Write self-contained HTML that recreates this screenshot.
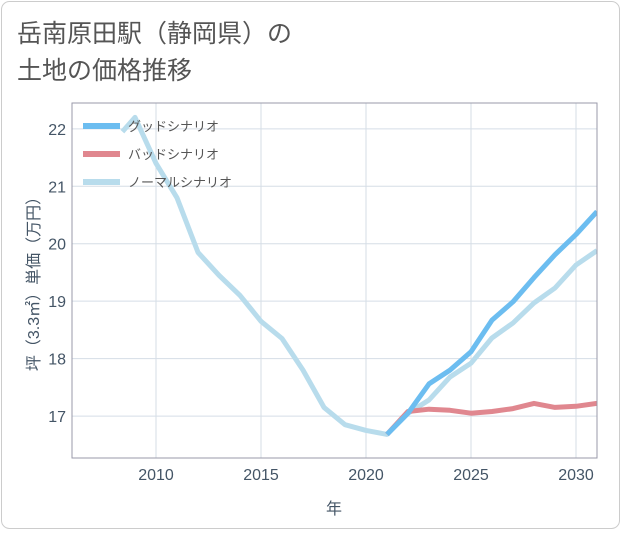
<!DOCTYPE html>
<html><head><meta charset="utf-8"><style>
body{margin:0;background:#fff;font-family:"Liberation Sans","Noto Sans CJK JP",sans-serif;}
#wrap{position:relative;width:621px;height:530px;}
</style></head><body>
<div id="wrap">
<svg id="chart" width="621" height="530" xmlns="http://www.w3.org/2000/svg">
<rect x="1.5" y="1.5" width="618" height="527" rx="8" fill="#fff" stroke="#ccc"/>
<text x="17" y="42" font-size="25" fill="#555">岳南原田駅（静岡県）の</text>
<text x="17" y="79" font-size="25" fill="#555">土地の価格推移</text>
<g id="grid"></g>
<g id="series"></g>
<rect x="72" y="103" width="525" height="355" fill="none" stroke="#99a"/>
<g id="legend"></g>
<text x="334" y="514" font-size="16" fill="#456" text-anchor="middle">年</text>
<text transform="translate(39,280) rotate(-90)" font-size="16" fill="#456" text-anchor="middle">坪（3.3㎡）単価（万円）</text>
</svg>
</div>
<script>
const xTicks=[2010,2015,2020,2025,2030];
const yTicks=[17,18,19,20,21,22];
const normalYears=[2008.4,2009,2010,2011,2012,2013,2014,2015,2016,2017,2018,2019,2020,2021,2022,2023,2024,2025,2026,2027,2028,2029,2030,2031];
const normalValues=[21.95,22.2,21.4,20.8,19.85,19.45,19.1,18.65,18.35,17.8,17.15,16.85,16.75,16.68,17.05,17.28,17.68,17.92,18.36,18.62,18.97,19.23,19.63,19.88];
const goodYears=[2021,2022,2023,2024,2025,2026,2027,2028,2029,2030,2031];
const goodValues=[16.68,17.05,17.56,17.8,18.12,18.67,18.99,19.41,19.81,20.16,20.56];
const badYears=[2021,2022,2023,2024,2025,2026,2027,2028,2029,2030,2031];
const badValues=[16.68,17.08,17.12,17.1,17.05,17.08,17.13,17.22,17.15,17.17,17.22];
const seriesNames=["グッドシナリオ","バッドシナリオ","ノーマルシナリオ"];
const NS="http://www.w3.org/2000/svg";
const L=72,R=597,T=103,B=458,X0=2006,X1=2031,Y0=16.27,Y1=22.45;
const sx=v=>L+(v-X0)/(X1-X0)*(R-L);
const sy=v=>B-(v-Y0)/(Y1-Y0)*(B-T);
function mk(tag,attrs,parent){const e=document.createElementNS(NS,tag);for(const k in attrs)e.setAttribute(k,attrs[k]);parent.appendChild(e);return e;}
const grid=document.getElementById('grid');
xTicks.forEach(t=>{
 const l=mk('line',{x1:sx(t),x2:sx(t),y1:T,y2:B,stroke:'#d5dde6'},grid);
 
 
 const tx=mk('text',{x:sx(t),y:B+22,'font-size':16,fill:'#456','text-anchor':'middle'},grid);
 tx.textContent=t;
 
 
});
yTicks.forEach(t=>{
 const l=mk('line',{x1:L,x2:R,y1:sy(t),y2:sy(t),stroke:'#d5dde6'},grid);
 
 
 const tx=mk('text',{x:L-6,y:sy(t)+6,'font-size':16,fill:'#456','text-anchor':'end'},grid);
 tx.textContent=t;
 
 
});
const sg=document.getElementById('series');
const clip=mk('clipPath',{id:'pc'},sg);mk('rect',{x:L,y:T,width:R-L,height:B-T},clip);
function line(xs,ys,color,name){
 const d=xs.map((x,i)=>(i?'L':'M')+sx(x).toFixed(1)+','+sy(ys[i]).toFixed(1)).join('');
 const p=mk('path',{d:d,fill:'none',stroke:color,'stroke-width':5,'stroke-linejoin':'round','clip-path':'url(#pc)'},sg);
 
 
}
line(normalYears,normalValues,'#b8dcec','normal-scenario-line');
line(badYears,badValues,'#e0878f','bad-scenario-line');
line(goodYears,goodValues,'#6cbdf0','good-scenario-line');
const lg=document.getElementById('legend');
const colors=['#6cbdf0','#e0878f','#b8dcec'];
seriesNames.forEach((n,i)=>{
 const y=126+i*28;
 const l=mk('line',{x1:83,x2:120,y1:y,y2:y,stroke:colors[i],'stroke-width':6},lg);
 
 
 const t=mk('text',{x:128,y:y+5,'font-size':13,fill:'#555'},lg);
 t.textContent=n;
 
 
});
</script>
</body></html>
